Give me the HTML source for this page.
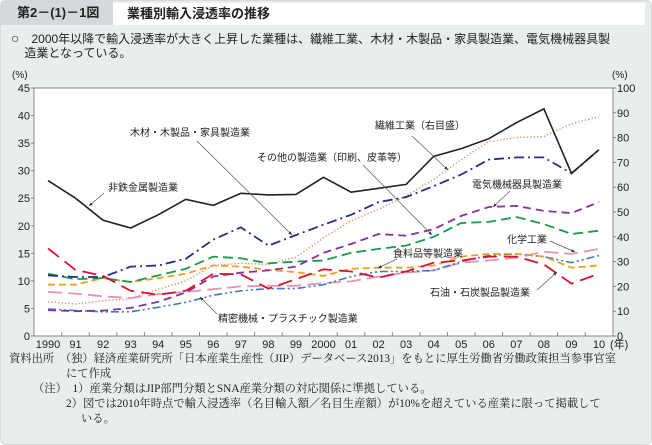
<!DOCTYPE html>
<html><head><meta charset="utf-8">
<style>
body{margin:0;width:652px;height:445px;background:#fff;font-family:"Liberation Sans","Noto Sans CJK JP",sans-serif;overflow:hidden}
#panel{position:absolute;left:0;top:0;width:650px;height:443px;background:#e9edee;border:1px solid #d6dadb;border-radius:6px}
#tab{position:absolute;left:0;top:0;width:112px;height:24px;background:#d4d9db;font-weight:bold;font-size:13px;line-height:24px;padding-left:16px;box-sizing:border-box;color:#222;white-space:nowrap}
#title{position:absolute;left:112px;top:2px;width:532px;height:22px;background:#fff;font-weight:bold;font-size:13px;line-height:22px;padding-left:14px;box-sizing:border-box;color:#222}
#summary{position:absolute;left:10px;top:30px;width:630px;font-size:12px;line-height:14px;color:#222;white-space:nowrap}
#foot{position:absolute;left:8px;top:351px;font-family:"Liberation Serif","Noto Serif CJK JP",serif;font-size:11.3px;line-height:15px;color:#222;white-space:nowrap}
svg{position:absolute;left:0;top:0}
svg text{font-family:"Liberation Sans","Noto Sans CJK JP",sans-serif}
</style></head><body>
<div id="panel">
<div id="tab">第2－(1)－1図</div>
<div id="title">業種別輸入浸透率の推移</div>
<div id="summary"><span style="font-size:14px">○</span>　2000年以降で輸入浸透率が大きく上昇した業種は、繊維工業、木材・木製品・家具製造業、電気機械器具製<br>&nbsp;&nbsp;&nbsp;&nbsp;造業となっている。</div>
<div id="foot">
<div>資料出所　（独）経済産業研究所「日本産業生産性（JIP）データベース2013」をもとに厚生労働省労働政策担当参事官室</div>
<div style="padding-left:57px">にて作成</div>
<div style="padding-left:24px">（注）　1）産業分類はJIP部門分類とSNA産業分類の対応関係に準拠している。</div>
<div style="padding-left:57px">2）図では2010年時点で輸入浸透率（名目輸入額／名目生産額）が10%を超えている産業に限って掲載して</div>
<div style="padding-left:72px">いる。</div>
</div>
</div>
<svg id="chart" width="652" height="445"></svg>
<script>
const years=["1990","91","92","93","94","95","96","97","98","99","2000","01","02","03","04","05","06","07","08","09","10"];
const leftTicks=[0,5,10,15,20,25,30,35,40,45];
const rightTicks=[0,10,20,30,40,50,60,70,80,90,100];
// values in left-axis units (%)
const nonFerrousTextile=[28.2,25,21,19.6,22,24.8,23.7,25.9,25.6,25.7,28.8,26.1,26.8,27.5,32.6,34,35.8,38.7,41.2,29.5,33.8];
const wood=[11,10.7,10.7,12.6,12.8,14,17.5,19.7,16.4,18.3,20.2,22,24.3,25.2,27.2,29.3,32,32.4,32.4,29.5,33.8];
const otherMfg=[6.2,5.8,6.4,6.8,8.5,10,12.8,13.2,13,14.3,17.8,20.9,23,25.4,28.4,32,35.3,36,36.2,38.5,39.8];
const electrical=[4.7,4.5,4.6,5.1,6.2,7.9,10.8,11.5,11.9,12.6,15.1,16.7,18.5,18.2,19.4,21.8,23.4,23.6,22.7,22.3,24.3];
const generalMachinery=[11.3,10.3,10.5,9.8,11,12.2,14.4,14.1,13.2,13.5,13.7,15.1,15.8,16.4,18,20.5,20.7,21.6,20.3,18.5,19.1];
const food=[9.3,9.3,10.5,9.8,10.5,11.3,12.8,12.6,12,11.6,10.9,12.2,12.4,12.4,12.8,14.4,14.9,14.9,14.4,12.4,12.8];
const petroleum=[15.9,12,10.9,8.2,7.5,8.2,11.3,11.2,8.6,10.3,12.1,11.7,10.6,11.7,13.3,13.7,14.4,14.4,13,9.5,11.3];
const chemical=[8,7.7,7.2,6.9,7.6,8,8.5,9,9.1,9.1,9.6,9.9,10.8,11.5,11.9,13.3,13.7,14.2,15.3,14.9,15.8];
const precision=[4.9,4.6,4.4,4.4,5.2,6.1,7.4,8.2,8.6,8.6,9.3,10.8,11.7,11.7,11.9,13.5,14.6,14.9,14.4,13.3,14.6];

const L=34,R=613,T=88,B=336,X0=48,X1=599;
const xs=i=>X0+(X1-X0)*i/(years.length-1);
const yl=v=>B-(B-T)*v/45;
const yr=v=>B-(B-T)*v/100;
const svg=document.getElementById('chart');
const NS='http://www.w3.org/2000/svg';
function mk(tag,attrs,parent){const e=document.createElementNS(NS,tag);for(const k in attrs)e.setAttribute(k,attrs[k]);(parent||svg).appendChild(e);return e;}

const bg=mk('rect',{x:L,y:T,width:R-L,height:B-T,fill:'#fff',stroke:'#888','stroke-width':1});



leftTicks.forEach(v=>{
  const t=mk('text',{x:L-4,y:yl(v)+4,'text-anchor':'end','font-size':11,fill:'#222'});t.textContent=v;
  
  
  mk('line',{x1:L-3,x2:L,y1:yl(v),y2:yl(v),stroke:'#888'});
});
rightTicks.forEach(v=>{
  const t=mk('text',{x:R+4,y:yr(v)+4,'font-size':11,fill:'#222'});t.textContent=v;
  
  
  mk('line',{x1:R,x2:R+3,y1:yr(v),y2:yr(v),stroke:'#888'});
});
years.forEach((y,i)=>{
  const t=mk('text',{x:xs(i),y:348,'text-anchor':'middle','font-size':11,fill:'#222'});t.textContent=y;
  
  
  if(i<years.length-1){const xm=(xs(i)+xs(i+1))/2;mk('line',{x1:xm,x2:xm,y1:B-4,y2:B,stroke:'#888'});}
});
const yu=mk('text',{x:610,y:348,'font-size':11,fill:'#222'});yu.textContent='(年)';


const lu=mk('text',{x:12,y:78,'font-size':10,fill:'#222'});lu.textContent='(%)';


const ru=mk('text',{x:612,y:78,'font-size':10,fill:'#222'});ru.textContent='(%)';



const series=[
 [otherMfg,'#e8784a','1.2 2.2',1.3,'line-other-manufacturing'],
 [chemical,'#e693ad','14 6',1.8,'line-chemical'],
 [precision,'#3b7bc8','8 3 2 3 2 3',1.6,'line-precision-plastic'],
 [food,'#f0a020','7 4',1.8,'line-food'],
 [generalMachinery,'#1a9a4a','10 5',1.8,'line-green-industry'],
 [electrical,'#8a2fa0','8 5',1.8,'line-electrical'],
 [petroleum,'#d6142f','14 7',1.8,'line-petroleum'],
 [wood,'#252f8a','10 4 2 4',1.8,'line-wood'],
 [nonFerrousTextile,'#222','',1.6,'line-nonferrous-textile']
];
series.forEach(s=>{
  const d=s[0].map((v,i)=>(i?'L':'M')+xs(i).toFixed(1)+','+yl(v).toFixed(1)).join('');
  const p=mk('path',{d:d,fill:'none',stroke:s[1],'stroke-width':s[3],'stroke-dasharray':s[2]});
  
  
});

const labels=[
 ['木材・木製品・家具製造業',130,136,197,141,292,235,'label-wood'],
 ['その他の製造業（印刷、皮革等）',257,161,363,165,432,235,'label-other-manufacturing'],
 ['非鉄金属製造業',108,191,104,193,89,206,'label-nonferrous'],
 ['精密機械・プラスチック製造業',218,322,217,314,200,297,'label-precision'],
 ['繊維工業（右目盛）',375,129,412,136,448,170,'label-textile'],
 ['電気機械器具製造業',472,188,510,191,493,207,'label-electrical'],
 ['化学工業',507,243,550,241,575,252,'label-chemical'],
 ['食料品等製造業',393,257,397,259,378,268,'label-food'],
 ['石油・石炭製品製造業',430,296,537,290,557,272,'label-petroleum']
];
labels.forEach(l=>{
  const t=mk('text',{x:l[1],y:l[2],'font-size':10,fill:'#222'});t.textContent=l[0];
  
  
  mk('line',{x1:l[3],y1:l[4],x2:l[5],y2:l[6],stroke:'#555','stroke-width':0.7});
  const a=Math.atan2(l[6]-l[4],l[5]-l[3]),s=4;
  const p1=[l[5]-s*Math.cos(a-0.4),l[6]-s*Math.sin(a-0.4)],p2=[l[5]-s*Math.cos(a+0.4),l[6]-s*Math.sin(a+0.4)];
  mk('polygon',{points:`${l[5]},${l[6]} ${p1} ${p2}`,fill:'#333'});
});
</script>
</body></html>
